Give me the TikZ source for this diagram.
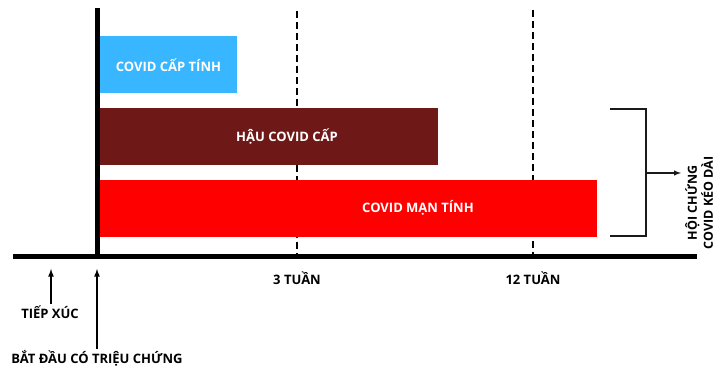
\documentclass[tikz,border=0pt]{standalone}
\usepackage{fontspec}
\setmainfont{Open Sans}
\usepackage{tikz}
\usetikzlibrary{positioning,calc}
\definecolor{cvacute}{HTML}{38B6FF}
\definecolor{cvpost}{HTML}{6F1818}
\definecolor{cvlong}{HTML}{FF0000}
\definecolor{cvline}{HTML}{1A1A1A}

\begin{document}
\begin{tikzpicture}[x=1pt,y=1pt,>=latex,font=\bfseries\fontsize{13}{15}\selectfont,
    bar/.style={draw=none,anchor=south west,minimum height=57pt,inner sep=0pt},
    bartxt/.style={text=white,font=\bfseries\fontsize{13}{15}\selectfont},
    lbl/.style={text=black,inner sep=1pt},
    ax/.style={line width=5pt,black},
    wk/.style={line width=2pt,dash pattern=on 7pt off 4pt},
    brk/.style={line width=1.6pt,cvline},
    arr/.style={->,line width=1.6pt}]
  \useasboundingbox (0,0) rectangle (720,369);
  % week marks (behind the bars)
  \coordinate (w3top) at (297,358);
  \coordinate (w3) at (297,112.5);
  \coordinate (w12top) at (533,359);
  \coordinate (w12) at (533,112.5);
  \draw[wk] (w3top) -- (w3);
  \draw[wk] (w12top) -- (w12);
  \node[lbl] (w3txt) at (297,91) {3 TUẦN};
  \node[lbl] (w12txt) at (533,91) {12 TUẦN};
  % phases
  \node[bar,fill=cvacute,minimum width=140pt] (acute) at (97,276) {};
  \node[bar,fill=cvpost,minimum width=341pt] (post) at (97,204) {};
  \node[bar,fill=cvlong,minimum width=500pt] (long) at (97,132) {};
  \node[bartxt] (acutetxt) at (168.5,304) {COVID CẤP TÍNH};
  \node[bartxt] (posttxt) at (287,232) {HẬU COVID CẤP};
  \node[bartxt] (longtxt) at (418,161) {COVID MẠN TÍNH};
  % axes
  \coordinate (xl) at (13,112.5);
  \coordinate (xr) at (697,112.5);
  \coordinate (yt) at (97.5,361);
  \coordinate (yb) at (97.5,110);
  \draw[ax] (xl) -- (xr);
  \draw[ax] (yb) -- (yt);
  % events
  \node[lbl] (expo) at (50,57) {TIẾP XÚC};
  \node[lbl] (onset) at (97,11) {BẮT ĐẦU CÓ TRIỆU CHỨNG};
  \coordinate (expotip) at (51,100);
  \coordinate (onsettip) at (97,100);
  \draw[arr] (expo.north -| expotip) -- (expotip);
  \draw[arr] (onset.north) -- (onsettip);
  % bracket
  \coordinate (bt) at (610,260);
  \coordinate (bb) at (610,133);
  \coordinate (bm) at (646,196);
  \coordinate (bend) at (681,196);
  \draw[brk] (bt) -- (646,260) -- (646,133) -- (bb);
  \draw[->,line width=1.4pt,cvline] (bm) -- (bend);
  \node[lbl,rotate=90,align=center,font=\bfseries\fontsize{12.5}{16}\selectfont] (lcs) at (699,166) {HỘI CHỨNG\\COVID KÉO DÀI};
\end{tikzpicture}
\end{document}
